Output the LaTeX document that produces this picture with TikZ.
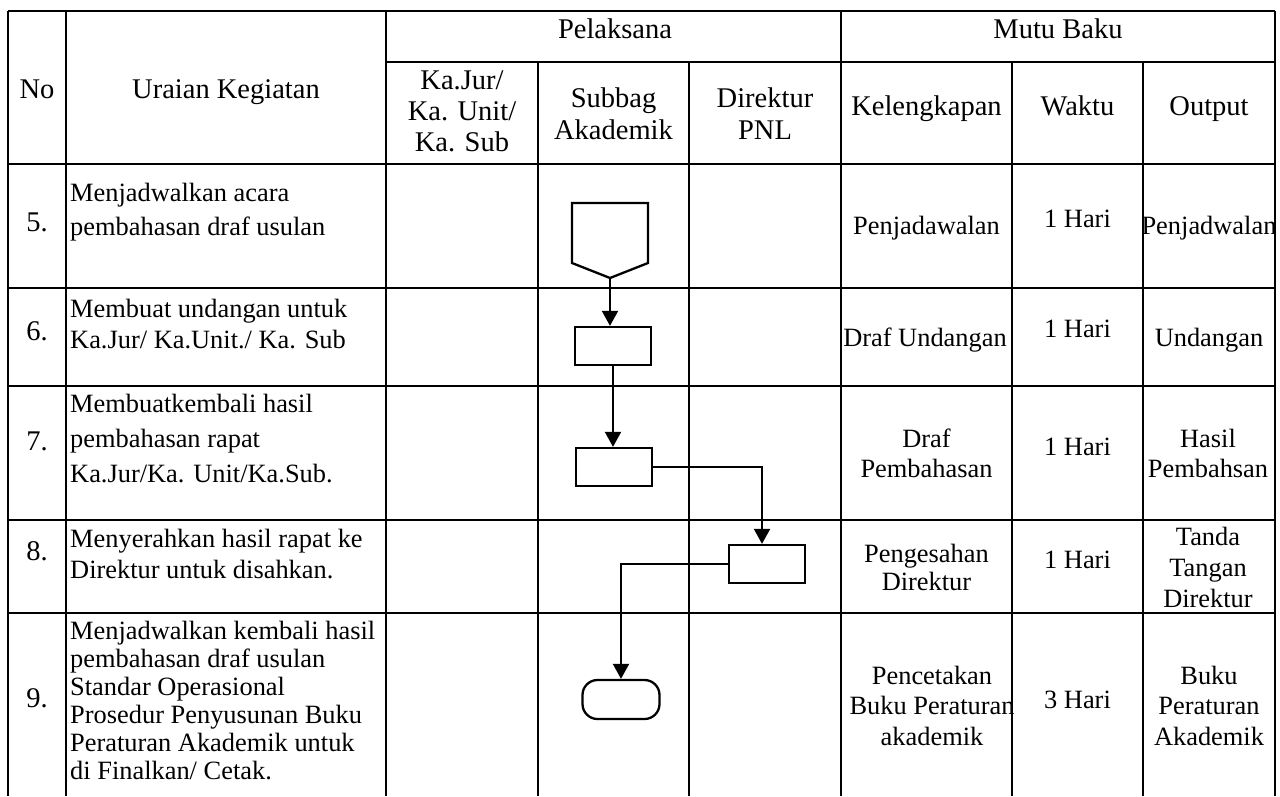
\documentclass[tikz,border=0pt]{standalone}
\usepackage{fontspec}
\setmainfont{Liberation Serif}
\usetikzlibrary{arrows.meta}
\begin{document}
\begin{tikzpicture}[x=1pt,y=-1pt,
  gridline/.style={line width=1.2pt},
  hd/.style={font=\fontsize{28.5}{#1}\selectfont, inner sep=0pt},
  hd/.default=31,
  bd/.style={font=\fontsize{26.4}{#1}\selectfont, inner sep=0pt},
  bd/.default=30,
  boxshape/.style={draw, line width=2.3pt, inner sep=0pt, minimum width=76pt, minimum height=38pt},
  flow/.style={line width=2pt, -{Triangle[width=16pt,length=15pt]}},
]
\useasboundingbox (0,0) rectangle (1280,796);
\fill[white] (0,0) rectangle (1280,796);

% ---------- header texts ----------
\node[hd, anchor=base] (hno) at (37,98) {No};
\node[hd, anchor=base] (hur) at (226,98) {Uraian Kegiatan};
\node[hd, anchor=base] (hpel) at (615,38) {Pelaksana};
\node[hd, anchor=base] (hmb) at (1058,38) {Mutu Baku};
\node[hd=31, anchor=north, align=center] (hkj) at (462,67.3) {\strut Ka.Jur/\\Ka. Unit/\\Ka. Sub};
\node[hd=32, anchor=north, align=center] (hsa) at (613.5,84.6) {\strut Subbag\\Akademik};
\node[hd=32, anchor=north, align=center] (hdp) at (765,84.6) {\strut Direktur\\PNL};
\node[hd, anchor=base] (hkl) at (926.5,115) {Kelengkapan};
\node[hd, anchor=base] (hwk) at (1077.5,115) {Waktu};
\node[hd, anchor=base] (hout) at (1209,115) {Output};

% ---------- numbers ----------
\node[hd, anchor=base] (n5) at (37,231) {5.};
\node[hd, anchor=base] (n6) at (37,340) {6.};
\node[hd, anchor=base] (n7) at (37,450) {7.};
\node[hd, anchor=base] (n8) at (37,560) {8.};
\node[hd, anchor=base] (n9) at (37,707) {9.};

% ---------- activity descriptions ----------
\node[bd=34, anchor=north west, align=left] (u5) at (70,177.2) {\strut Menjadwalkan acara\\pembahasan draf usulan};
\node[bd=31, anchor=north west, align=left] (u6) at (70,295.3) {\strut Membuat undangan untuk\\Ka.Jur/ Ka.Unit./ Ka. Sub};
\node[bd=35, anchor=north west, align=left] (u7) at (70,387.5) {\strut Membuatkembali hasil\\pembahasan rapat\\Ka.Jur/Ka. Unit/Ka.Sub.};
\node[bd=31, anchor=north west, align=left] (u8) at (70,525.3) {\strut Menyerahkan hasil rapat ke\\Direktur untuk disahkan.};
\node[bd=28, anchor=north west, align=left] (u9) at (70,619.5) {\strut Menjadwalkan kembali hasil\\pembahasan draf usulan\\Standar Operasional\\Prosedur Penyusunan Buku\\Peraturan Akademik untuk\\di Finalkan/ Cetak.};

% ---------- Kelengkapan ----------
\node[bd, anchor=base] (k5) at (926.5,234) {Penjadawalan};
\node[bd, anchor=base] (k6) at (925,346) {Draf Undangan};
\node[bd=30, anchor=north, align=center] (k7) at (926.5,426) {\strut Draf\\Pembahasan};
\node[bd=28, anchor=north, align=center] (k8) at (926.5,542.4) {\strut Pengesahan\\Direktur};
\node[bd=30.5, anchor=north, align=center] (k9) at (932,662.65) {\strut Pencetakan\\Buku Peraturan\\akademik};

% ---------- Waktu ----------
\node[bd, anchor=base] (w5) at (1077.5,227) {1 Hari};
\node[bd, anchor=base] (w6) at (1077.5,337) {1 Hari};
\node[bd, anchor=base] (w7) at (1077.5,455) {1 Hari};
\node[bd, anchor=base] (w8) at (1077.5,568) {1 Hari};
\node[bd, anchor=base] (w9) at (1077.5,708) {3 Hari};

% ---------- Output ----------
\node[bd, anchor=base] (o5) at (1209,234) {Penjadwalan};
\node[bd, anchor=base] (o6) at (1209,346) {Undangan};
\node[bd=30, anchor=north, align=center] (o7) at (1208,426) {\strut Hasil\\Pembahsan};
\node[bd=31, anchor=north, align=center] (o8) at (1208,523.3) {\strut Tanda\\Tangan\\Direktur};
\node[bd=30.5, anchor=north, align=center] (o9) at (1209,662.65) {\strut Buku\\Peraturan\\Akademik};

% ---------- grid ----------
\draw[gridline] (8,11) -- (1275,11);
\draw[gridline] (386,62) -- (1275,62);
\foreach \yy in {164,288,386,520,613} \draw[gridline] (8,\yy) -- (1275,\yy);
\foreach \xx in {8,66,386,841,1275} \draw[gridline] (\xx,11) -- (\xx,796);
\foreach \xx in {538,689,1012,1143} \draw[gridline] (\xx,62) -- (\xx,796);

% ---------- flowchart ----------
\draw[line width=2.3pt, line join=miter] (572,203) -- (648,203) -- (648,263) -- (610,278) -- (572,263) -- cycle;
\coordinate (p5) at (610,278);
\node[boxshape] (r6) at (613,346) {};
\node[boxshape] (r7) at (614,467) {};
\node[boxshape] (r8) at (767,564) {};
\node[boxshape, rounded corners=15pt, minimum width=77pt, minimum height=39pt] (t9) at (621,699.5) {};

\draw[flow] (p5) -- (p5 |- r6.north);
\draw[flow] (r6.south) -- (r6.south |- r7.north);
\draw[flow] (r7.east) -| ([xshift=-5pt]r8.north);
\draw[flow] (r8.west) -| (t9.north);
\end{tikzpicture}
\end{document}
